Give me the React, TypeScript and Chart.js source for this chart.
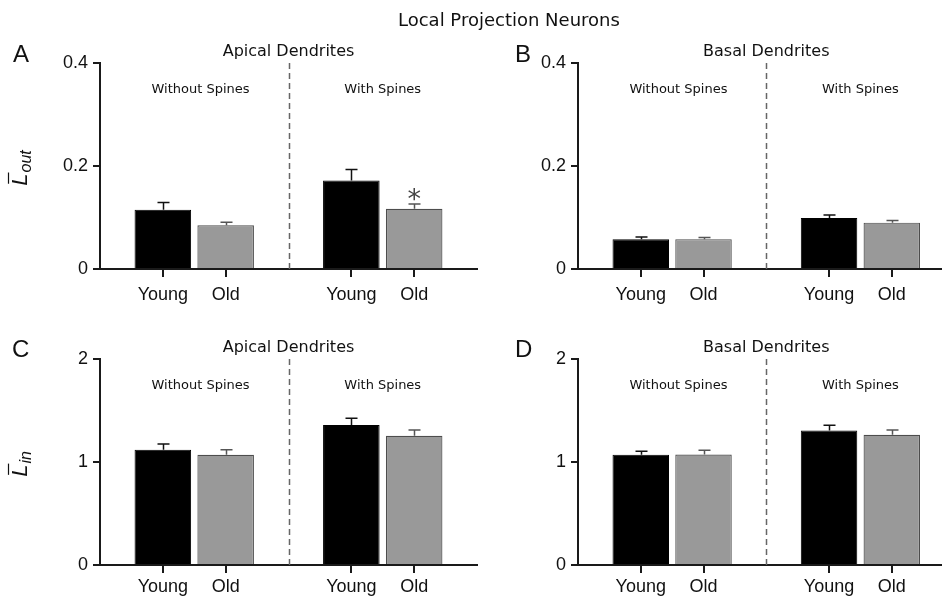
import React, { useEffect, useRef } from 'react';
import { Chart, registerables } from 'chart.js';

Chart.register(...registerables);

// ---------- data ----------
const figureTitle = 'Local Projection Neurons';
const ageGroups = ['Young', 'Old'];
const spineGroups = ['Without Spines', 'With Spines'];

// Panel A: L_out, apical dendrites
const apicalLoutYoung = [0.115, 0.172];
const apicalLoutYoungSem = [0.014, 0.021];
const apicalLoutOld = [0.085, 0.117];
const apicalLoutOldSem = [0.006, 0.009];
const apicalLoutSignificance = ['', '*'];

// Panel B: L_out, basal dendrites
const basalLoutYoung = [0.058, 0.099];
const basalLoutYoungSem = [0.004, 0.006];
const basalLoutOld = [0.058, 0.09];
const basalLoutOldSem = [0.003, 0.004];
const basalLoutSignificance = ['', ''];

// Panel C: L_in, apical dendrites
const apicalLinYoung = [1.12, 1.36];
const apicalLinYoungSem = [0.055, 0.065];
const apicalLinOld = [1.07, 1.255];
const apicalLinOldSem = [0.05, 0.055];
const apicalLinSignificance = ['', ''];

// Panel D: L_in, basal dendrites
const basalLinYoung = [1.07, 1.306];
const basalLinYoungSem = [0.035, 0.05];
const basalLinOld = [1.073, 1.265];
const basalLinOldSem = [0.04, 0.045];
const basalLinSignificance = ['', ''];

const loutTicks = [0, 0.2, 0.4];
const linTicks = [0, 1, 2];

// ---------- helpers ----------
const youngPos = (g: number) => g * 3 + 1;
const oldPos = (g: number) => g * 3 + 2;
const separatorPos = 3;
const subLabelPos = [1.6, 4.5];

const BLACK = '#000000';
const GRAY = '#999999';
const AXIS = '#1a1a1a';
const SANS = "'Liberation Sans', Arial, sans-serif";
const VERD = "'DejaVu Sans', Verdana, sans-serif";
const TICK_LEN = 7;

type PanelDef = {
  letter: string;
  section: string;
  sub: string;
  ticks: number[];
  young: number[];
  youngSem: number[];
  old: number[];
  oldSem: number[];
  sig: string[];
  left: number;
  top: number;
  width: number;
  height: number;
  axisLeft: number;
  areaTop: number;
  areaBottom: number;
  padRight: number;
  xMax: number;
  letterX: number;
  letterBase: number;
  labelPad: number;
};

const panels: PanelDef[] = [
  {
    letter: 'A', section: 'Apical Dendrites', sub: 'out', ticks: loutTicks,
    young: apicalLoutYoung, youngSem: apicalLoutYoungSem, old: apicalLoutOld, oldSem: apicalLoutOldSem,
    sig: apicalLoutSignificance,
    left: 0, top: 0, width: 480, height: 305, axisLeft: 100, areaTop: 63, areaBottom: 269, padRight: 3, xMax: 6,
    letterX: 13, letterBase: 62, labelPad: 8,
  },
  {
    letter: 'B', section: 'Basal Dendrites', sub: 'out', ticks: loutTicks,
    young: basalLoutYoung, youngSem: basalLoutYoungSem, old: basalLoutOld, oldSem: basalLoutOldSem,
    sig: basalLoutSignificance,
    left: 480, top: 0, width: 462, height: 305, axisLeft: 98, areaTop: 63, areaBottom: 269, padRight: 0, xMax: 5.8,
    letterX: 35, letterBase: 62, labelPad: 8,
  },
  {
    letter: 'C', section: 'Apical Dendrites', sub: 'in', ticks: linTicks,
    young: apicalLinYoung, youngSem: apicalLinYoungSem, old: apicalLinOld, oldSem: apicalLinOldSem,
    sig: apicalLinSignificance,
    left: 0, top: 300, width: 480, height: 299, axisLeft: 100, areaTop: 59, areaBottom: 265, padRight: 3, xMax: 6,
    letterX: 12, letterBase: 57, labelPad: 4,
  },
  {
    letter: 'D', section: 'Basal Dendrites', sub: 'in', ticks: linTicks,
    young: basalLinYoung, youngSem: basalLinYoungSem, old: basalLinOld, oldSem: basalLinOldSem,
    sig: basalLinSignificance,
    left: 480, top: 300, width: 462, height: 299, axisLeft: 98, areaTop: 59, areaBottom: 265, padRight: 0, xMax: 5.8,
    letterX: 35, letterBase: 57, labelPad: 4,
  },
];

function makePlugin(p: PanelDef, tickPositions: number[]) {
  return {
    id: 'annot' + p.letter,
    beforeDatasetsDraw(chart: any) {
      const { ctx, chartArea } = chart;
      const xs = chart.scales.x;
      const x = Math.round(xs.getPixelForValue(separatorPos)) + 0.5;
      ctx.save();
      ctx.strokeStyle = '#666';
      ctx.lineWidth = 1.5;
      ctx.setLineDash([6, 4]);
      ctx.beginPath();
      ctx.moveTo(x, chartArea.top);
      ctx.lineTo(x, chartArea.bottom);
      ctx.stroke();
      ctx.restore();
    },
    afterDatasetsDraw(chart: any) {
      const { ctx, chartArea } = chart;
      const xs = chart.scales.x;
      const ys = chart.scales.y;
      ctx.save();
      const series = [
        { vals: p.young, sem: p.youngSem, pos: youngPos, color: '#111' },
        { vals: p.old, sem: p.oldSem, pos: oldPos, color: '#555' },
      ];
      series.forEach((s) => {
        s.vals.forEach((v, g) => {
          const x = Math.round(xs.getPixelForValue(s.pos(g))) + 0.5;
          const y0 = ys.getPixelForValue(v);
          const y1 = ys.getPixelForValue(v + s.sem[g]);
          ctx.strokeStyle = s.color;
          ctx.lineWidth = 1.5;
          ctx.beginPath();
          ctx.moveTo(x, y0);
          ctx.lineTo(x, y1);
          ctx.moveTo(x - 6, y1);
          ctx.lineTo(x + 6, y1);
          ctx.stroke();
        });
      });
      // x-axis tick marks below the axis
      ctx.strokeStyle = AXIS;
      ctx.lineWidth = 2;
      ctx.beginPath();
      tickPositions.forEach((v) => {
        const x = Math.round(xs.getPixelForValue(v));
        ctx.moveTo(x, chartArea.bottom);
        ctx.lineTo(x, chartArea.bottom + TICK_LEN + 1);
      });
      ctx.stroke();
      // significance markers over the Old bars
      p.sig.forEach((m, g) => {
        if (!m) return;
        const x = xs.getPixelForValue(oldPos(g));
        const y = ys.getPixelForValue(p.old[g] + p.oldSem[g]);
        ctx.fillStyle = '#444';
        ctx.font = `27px ${VERD}`;
        ctx.textAlign = 'center';
        ctx.textBaseline = 'alphabetic';
        ctx.fillText(m, x, y + 4);
      });
      ctx.restore();
    },
    afterDraw(chart: any) {
      const { ctx, chartArea } = chart;
      const xs = chart.scales.x;
      ctx.save();
      ctx.fillStyle = '#111';
      // panel letter
      ctx.font = `24px ${SANS}`;
      ctx.textAlign = 'left';
      ctx.textBaseline = 'alphabetic';
      ctx.fillText(p.letter, p.letterX, p.letterBase);
      // section title
      ctx.font = `16px ${VERD}`;
      ctx.textAlign = 'center';
      ctx.fillText(p.section, xs.getPixelForValue(separatorPos), chartArea.top - 7);
      // sub-group labels
      ctx.font = `13px ${VERD}`;
      spineGroups.forEach((lab, g) => {
        ctx.fillText(lab, xs.getPixelForValue(subLabelPos[g]), chartArea.top + 30);
      });
      // y axis title: italic L with overline and subscript
      if (p.letterX < 20) {
        const cx = 20;
        const cy = (chartArea.top + chartArea.bottom) / 2 + 2;
        ctx.translate(cx, cy);
        ctx.rotate(-Math.PI / 2);
        ctx.font = `italic 22px ${SANS}`;
        const wL = ctx.measureText('L').width;
        ctx.font = `italic 16px ${SANS}`;
        const wS = ctx.measureText(p.sub).width;
        const total = wL + wS + 1;
        const x0 = -total / 2;
        const base = 7;
        ctx.textAlign = 'left';
        ctx.font = `italic 22px ${SANS}`;
        ctx.fillText('L', x0, base);
        ctx.strokeStyle = '#111';
        ctx.lineWidth = 1.2;
        ctx.beginPath();
        ctx.moveTo(x0 + 2, base - 18.5);
        ctx.lineTo(x0 + wL + 1, base - 18.5);
        ctx.stroke();
        ctx.font = `italic 16px ${SANS}`;
        ctx.fillText(p.sub, x0 + wL + 1, base + 4);
      }
      ctx.restore();
    },
  };
}

function buildConfig(p: PanelDef): any {
  const tickPositions: number[] = [];
  const tickLabels: string[] = [];
  spineGroups.forEach((_, g) => {
    tickPositions.push(youngPos(g), oldPos(g));
    tickLabels.push(ageGroups[0], ageGroups[1]);
  });
  return {
    type: 'bar',
    data: {
      datasets: [
        {
          label: ageGroups[0],
          data: p.young.map((v, g) => ({ x: youngPos(g), y: v })),
          backgroundColor: BLACK,
          borderColor: BLACK,
          borderWidth: 1,
        },
        {
          label: ageGroups[1],
          data: p.old.map((v, g) => ({ x: oldPos(g), y: v })),
          backgroundColor: GRAY,
          borderColor: '#4d4d4d',
          borderWidth: 1.2,
        },
      ],
    },
    options: {
      responsive: false,
      animation: false,
      events: [],
      grouped: false,
      categoryPercentage: 1,
      barPercentage: 0.9,
      layout: { padding: { left: 0, top: p.areaTop, right: p.padRight, bottom: 0 } },
      plugins: { legend: { display: false }, tooltip: { enabled: false }, title: { display: false } },
      scales: {
        x: {
          type: 'linear',
          offset: false,
          min: 0,
          max: p.xMax,
          afterFit: (s: any) => {
            s.height = p.height - p.areaBottom;
          },
          afterBuildTicks: (s: any) => {
            s.ticks = tickPositions.map((v) => ({ value: v }));
          },
          ticks: {
            callback: (_v: any, i: number) => tickLabels[i],
            font: { family: SANS, size: 18 },
            color: '#111',
            padding: p.labelPad + TICK_LEN,
            maxRotation: 0,
            autoSkip: false,
          },
          grid: { display: false, drawTicks: false },
          border: { display: true, color: AXIS, width: 2 },
        },
        y: {
          min: 0,
          max: p.ticks[p.ticks.length - 1],
          afterFit: (s: any) => {
            s.width = p.axisLeft;
          },
          afterBuildTicks: (s: any) => {
            s.ticks = p.ticks.map((v) => ({ value: v }));
          },
          ticks: {
            callback: (v: any) => String(v),
            font: { family: SANS, size: 18 },
            color: '#111',
            padding: 5,
          },
          grid: { display: true, drawOnChartArea: false, drawTicks: true, tickLength: TICK_LEN, tickWidth: 2, tickColor: AXIS, color: AXIS, lineWidth: 2 },
          border: { display: true, color: AXIS, width: 2 },
        },
      },
    },
    plugins: [makePlugin(p, tickPositions)],
  };
}

function Panel({ def }: { def: PanelDef }) {
  const ref = useRef<HTMLCanvasElement>(null);
  useEffect(() => {
    if (!ref.current) return;
    const chart = new Chart(ref.current, buildConfig(def));
    return () => chart.destroy();
  }, [def]);
  return (
    <canvas
      ref={ref}
      width={def.width}
      height={def.height}
      style={{ position: 'absolute', left: def.left, top: def.top, width: def.width, height: def.height }}
    />
  );
}

export default function App() {
  return (
    <div
      style={{
        position: 'fixed',
        left: 0,
        top: 0,
        width: 942,
        height: 599,
        background: '#ffffff',
        overflow: 'hidden',
      }}
    >
      {panels.map((p) => (
        <Panel key={p.letter} def={p} />
      ))}
      <div
        style={{
          position: 'absolute',
          left: 398,
          top: 9,
          fontFamily: VERD,
          fontSize: 18,
          lineHeight: '22px',
          color: '#111',
          whiteSpace: 'nowrap',
          zIndex: 2,
        }}
      >
        {figureTitle}
      </div>
    </div>
  );
}
